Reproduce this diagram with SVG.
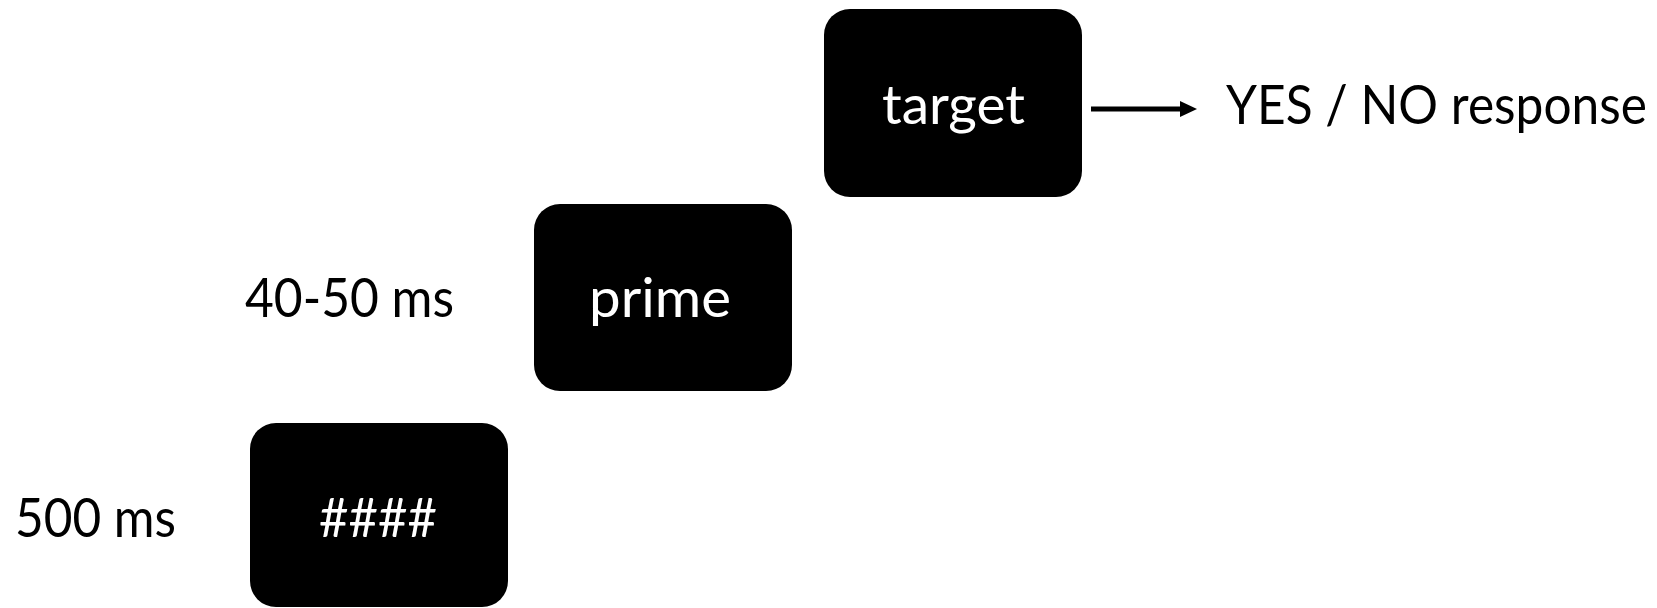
<svg xmlns="http://www.w3.org/2000/svg" width="1657" height="608" viewBox="0 0 1657 608">
<style>
.box{fill:#000;}
.wt{fill:#fff;font-family:Lato,"Open Sans",sans-serif;font-size:55px;}
.bt{fill:#000;font-family:Lato,"Open Sans",sans-serif;font-size:55px;}
.conn{stroke:#000;stroke-width:5;fill:none;}
.head{fill:#000;stroke:none;}
</style>
<rect width="1657" height="608" fill="#fff"/>
<g id="target">
<rect class="box" x="824" y="9" width="258" height="188" rx="26" ry="26"/>
<text class="wt" x="882" y="124" textLength="143" lengthAdjust="spacingAndGlyphs">target</text>
</g>
<g id="response">
<text class="bt" x="1226" y="124" textLength="421" lengthAdjust="spacingAndGlyphs">YES / NO response</text>
</g>
<g id="prime">
<rect class="box" x="534" y="204" width="258" height="187" rx="26" ry="26"/>
<text class="wt" x="589" y="317" textLength="142" lengthAdjust="spacingAndGlyphs">prime</text>
</g>
<g id="prime-duration">
<text class="bt" x="245" y="317" textLength="209" lengthAdjust="spacingAndGlyphs">40-50 ms</text>
</g>
<g id="mask">
<rect class="box" x="250" y="423" width="258" height="184" rx="26" ry="26"/>
<text class="wt" x="319" y="537" textLength="118" lengthAdjust="spacingAndGlyphs">####</text>
</g>
<g id="mask-duration">
<text class="bt" x="15" y="537" textLength="161" lengthAdjust="spacingAndGlyphs">500 ms</text>
</g>
<g id="connectors">
<line class="conn" x1="1091" y1="109" x2="1182" y2="109"/>
<polygon class="head" points="1180,101 1197,109 1180,117"/>
</g>
</svg>
